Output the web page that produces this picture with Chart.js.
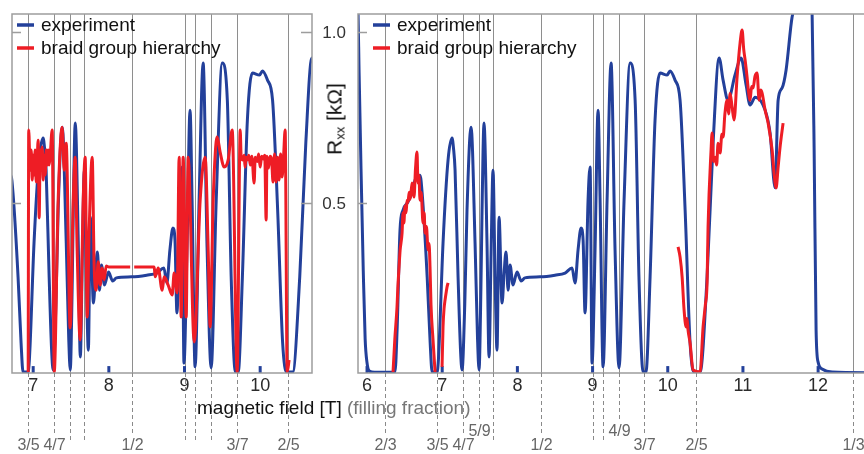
<!DOCTYPE html>
<html>
<head>
<meta charset="utf-8">
<script src="https://cdn.jsdelivr.net/npm/chart.js@4.4.1/dist/chart.umd.min.js"></script>
<style>
html, body { margin: 0; padding: 0; background: #fff; overflow: hidden; }
#wrap { position: relative; width: 864px; height: 454px; overflow: hidden; }
canvas { position: absolute; top: 0; }
#leftPanel { left: 0; }
#rightPanel { left: 300px; }
.txt { position: absolute; font-family: "Liberation Sans", Arial, sans-serif; white-space: nowrap; color: #111; }
#xTitle { left: 197px; top: 397px; font-size: 19px; line-height: 22px; }
#xTitle span { color: #777; }
#yTitle { left: 335px; top: 119px; font-size: 21px; transform: translate(-50%, -50%) rotate(-90deg); }
#yTitle sub { font-size: 13px; vertical-align: -3px; }
</style>
</head>
<body>
<div id="wrap">
  <canvas id="leftPanel" width="330" height="454" style="width:330px;height:454px"></canvas>
  <canvas id="rightPanel" width="580" height="454" style="width:580px;height:454px"></canvas>
  <div class="txt" id="xTitle">magnetic field [T] <span>(filling fraction)</span></div>
  <div class="txt" id="yTitle">R<sub>xx</sub> [kΩ]</div>
</div>
<script>
// filling fractions and where they sit on the field axis (T)
const fractionB = [6.24, 6.93, 7.27, 7.49, 7.67, 8.31, 9.01, 9.14, 9.35, 9.69, 10.37, 12.47];
const fractionLabels = ['2/3', '3/5', '4/7', '5/9', '6/11', '1/2', '6/13', '5/11', '4/9', '3/7', '2/5', '1/3'];
const raisedLabels = ['5/9', '4/9'];
const leftShown = ['3/5', '4/7', '1/2', '3/7', '2/5'];
const rightShown = ['2/3', '3/5', '4/7', '5/9', '1/2', '4/9', '3/7', '2/5', '1/3'];

const fieldTicks = [6, 7, 8, 9, 10, 11, 12];
const rxxTicks = [0.5, 1.0];
const fieldMarks = [6, 7, 8, 9, 10, 11, 12];

// measured Rxx (kOhm) against B (T)
const experiment = [
  [5.86, 1.12], [5.88, 1.06], [5.894, 0.889], [5.92, 0.6], [5.95, 0.3], [5.975, 0.1], [6.0, 0.03], [6.03, 0.006],
  [6.1, 0.002], [6.372, 0.003], [6.40, 0.126], [6.439, 0.42], [6.479, 0.478], [6.54, 0.50], [6.60, 0.53],
  [6.639, 0.566], [6.705, 0.58], [6.733, 0.528], [6.80, 0.282], [6.84, 0.088], [6.866, 0.003], [6.931, 0.003],
  [6.95, 0.04], [7.011, 0.381], [7.078, 0.625], [7.131, 0.689], [7.15, 0.66], [7.171, 0.595], [7.211, 0.282],
  [7.245, 0.06], [7.264, 0.009], [7.30, 0.2], [7.33, 0.478], [7.384, 0.721], [7.437, 0.381], [7.47, 0.1],
  [7.49, 0.009], [7.515, 0.25], [7.53, 0.478], [7.556, 0.733], [7.596, 0.381], [7.623, 0.047], [7.65, 0.35],
  [7.676, 0.595], [7.703, 0.282], [7.729, 0.067], [7.756, 0.457], [7.796, 0.205], [7.825, 0.30], [7.849, 0.355],
  [7.876, 0.243], [7.902, 0.317], [7.942, 0.258], [7.995, 0.296], [8.05, 0.27], [8.10, 0.279], [8.301, 0.282],
  [8.50, 0.287], [8.634, 0.293], [8.727, 0.308], [8.767, 0.264], [8.807, 0.361], [8.847, 0.425], [8.874, 0.39],
  [8.90, 0.176], [8.94, 0.507], [8.967, 0.604], [8.993, 0.029], [9.033, 0.361], [9.073, 0.771], [9.10, 0.507],
  [9.14, 0.018], [9.193, 0.507], [9.246, 0.909], [9.299, 0.361], [9.352, 0.015], [9.419, 0.507], [9.499, 0.909],
  [9.566, 0.80], [9.618, 0.273], [9.672, 0.003], [9.71, 0.003], [9.765, 0.282], [9.831, 0.742], [9.898, 0.88],
  [9.991, 0.874], [10.031, 0.886], [10.097, 0.859], [10.164, 0.80], [10.231, 0.478], [10.297, 0.088], [10.35, 0.003],
  [10.43, 0.003], [10.523, 0.282], [10.603, 0.674], [10.683, 0.924], [10.736, 0.859], [10.802, 0.80], [10.895, 0.874],
  [10.975, 0.924], [11.042, 0.845], [11.095, 0.786], [11.162, 0.809], [11.295, 0.771], [11.361, 0.704], [11.428, 0.543],
  [11.468, 0.80], [11.521, 0.836], [11.574, 0.889], [11.654, 1.044], [11.707, 1.079], [11.80, 1.12], [11.90, 1.1],
  [11.92, 1.053], [11.947, 0.654], [11.973, 0.126], [12.0, 0.032], [12.053, 0.012], [12.186, 0.003], [12.7, 0.001]
];

// braid group hierarchy, left panel
const hierarchyLeft = [
  [6.934, 0.003], [6.941, 0.713], [6.96, 0.595], [6.974, 0.654], [6.987, 0.566], [7.0, 0.639], [7.013, 0.581],
  [7.026, 0.654], [7.04, 0.56], [7.053, 0.625], [7.066, 0.683], [7.079, 0.455], [7.093, 0.654], [7.106, 0.595],
  [7.119, 0.663], [7.132, 0.566], [7.145, 0.639], [7.159, 0.581], [7.172, 0.654], [7.185, 0.61], [7.198, 0.654],
  [7.211, 0.61], [7.225, 0.639], [7.251, 0.713], [7.278, 0.003], [7.33, 0.507], [7.383, 0.721], [7.41, 0.595],
  [7.436, 0.674], [7.489, 0.132], [7.529, 0.507], [7.555, 0.633], [7.581, 0.361], [7.621, 0.097], [7.661, 0.507],
  [7.687, 0.633], [7.714, 0.164], [7.74, 0.419], [7.78, 0.633], [7.806, 0.311], [7.833, 0.243], [7.859, 0.326],
  [7.885, 0.258], [7.912, 0.308], [7.938, 0.273], [7.965, 0.314], [8.0, 0.311], [8.282, 0.311], [8.30, null],
  [8.335, 0.311], [8.60, 0.311], [8.612, 0.282], [8.652, 0.308], [8.705, 0.243], [8.731, 0.282], [8.784, 0.258],
  [8.837, 0.229], [8.863, 0.293], [8.903, 0.235], [8.929, 0.633], [8.956, 0.164], [8.982, 0.633], [9.022, 0.164],
  [9.048, 0.633], [9.128, 0.091], [9.207, 0.507], [9.273, 0.633], [9.313, 0.361], [9.339, 0.135], [9.379, 0.507],
  [9.432, 0.692], [9.471, 0.648], [9.524, 0.604], [9.577, 0.625], [9.63, 0.713], [9.696, 0.003], [9.736, 0.713],
  [9.749, 0.633], [9.77, 0.625], [9.789, 0.639], [9.80, 0.604], [9.815, 0.633], [9.83, 0.625], [9.85, 0.639],
  [9.87, 0.61], [9.89, 0.636], [9.92, 0.557], [9.935, 0.633], [9.96, 0.62], [9.98, 0.642], [10.0, 0.604],
  [10.02, 0.636], [10.04, 0.628], [10.06, 0.639], [10.079, 0.449], [10.09, 0.636], [10.11, 0.601], [10.13, 0.636],
  [10.15, 0.628], [10.17, 0.56], [10.19, 0.642], [10.21, 0.56], [10.23, 0.633], [10.25, 0.566], [10.27, 0.642],
  [10.29, 0.575], [10.31, 0.639], [10.33, 0.713], [10.357, 0.003], [10.383, 0.038]
];

// braid group hierarchy, right panel (two fitted stretches)
const hierarchyRight = [
  [6.346, 0.003], [6.37, 0.10], [6.399, 0.194], [6.41, 0.25], [6.426, 0.311], [6.44, 0.36], [6.466, 0.41],
  [6.479, 0.47], [6.49, 0.44], [6.505, 0.49], [6.52, 0.47], [6.532, 0.507], [6.545, 0.50], [6.56, 0.53],
  [6.575, 0.51], [6.599, 0.557], [6.612, 0.53], [6.625, 0.516], [6.645, 0.60], [6.665, 0.648], [6.678, 0.557],
  [6.69, 0.58], [6.705, 0.507], [6.72, 0.53], [6.745, 0.44], [6.76, 0.47], [6.772, 0.41], [6.79, 0.43],
  [6.812, 0.361], [6.825, 0.38], [6.838, 0.311], [6.851, 0.2], [6.878, 0.097], [6.905, 0.003], [6.95, null],
  [6.998, 0.018], [7.011, 0.135], [7.025, 0.19], [7.038, 0.214], [7.055, 0.24], [7.064, 0.252], [7.078, 0.264],
  [9.0, null],
  [10.137, 0.37], [10.164, 0.34], [10.191, 0.282], [10.217, 0.185], [10.244, 0.135], [10.257, 0.16], [10.27, 0.126],
  [10.297, 0.088], [10.337, 0.009], [10.43, 0.003], [10.47, 0.135], [10.50, 0.20], [10.523, 0.264], [10.536, 0.428],
  [10.576, 0.654], [10.59, 0.704], [10.61, 0.62], [10.63, 0.633], [10.65, 0.61], [10.669, 0.674], [10.696, 0.645],
  [10.72, 0.70], [10.736, 0.692], [10.76, 0.76], [10.789, 0.80], [10.81, 0.76], [10.829, 0.82], [10.856, 0.78],
  [10.882, 0.742], [10.922, 0.868], [10.962, 0.968], [10.989, 1.006], [11.01, 0.95], [11.029, 0.918], [11.055, 0.868],
  [11.069, 0.836], [11.095, 0.80], [11.115, 0.84], [11.135, 0.836], [11.16, 0.87], [11.188, 0.88], [11.215, 0.80],
  [11.235, 0.83], [11.255, 0.821], [11.295, 0.771], [11.335, 0.733], [11.388, 0.654], [11.414, 0.587], [11.441, 0.543],
  [11.468, 0.604], [11.494, 0.663], [11.534, 0.733]
];

const BLUE = '#23409a';
const RED = '#ee1d25';
const FONT = '"Liberation Sans", Arial, sans-serif';

const panelDecor = {
  id: 'panelDecor',
  beforeDatasetsDraw(chart, args, opts) {
    const { ctx, chartArea: area, scales: { x } } = chart;
    ctx.save();
    ctx.strokeStyle = '#8e8e8e';
    ctx.lineWidth = 1;
    fractionB.forEach(b => {
      if (b <= x.min || b >= x.max) return;
      const px = Math.round(x.getPixelForValue(b)) + 0.5;
      ctx.beginPath();
      ctx.moveTo(px, area.top);
      ctx.lineTo(px, area.bottom);
      ctx.stroke();
    });
    ctx.restore();
  },
  afterDatasetsDraw(chart, args, opts) {
    const { ctx, chartArea: area, scales: { x, y } } = chart;
    ctx.save();

    // frame and Rxx ticks
    ctx.strokeStyle = '#9d9d9d';
    ctx.lineWidth = 1.5;
    ctx.strokeRect(area.left, area.top, area.right - area.left, area.bottom - area.top);
    ctx.font = '17px ' + FONT;
    ctx.fillStyle = '#333';
    ctx.textAlign = 'right';
    ctx.textBaseline = 'middle';
    rxxTicks.forEach(v => {
      const py = Math.round(y.getPixelForValue(v)) + 0.5;
      ctx.beginPath();
      ctx.moveTo(area.left, py);
      ctx.lineTo(area.left + 9, py);
      if (opts.rightTicks) {
        ctx.moveTo(area.right - 11, py);
        ctx.lineTo(area.right, py);
      }
      ctx.stroke();
      if (opts.yLabels) ctx.fillText(v.toFixed(1), area.left - 12, py + 1);
    });

    // field tick labels
    ctx.font = '18px ' + FONT;
    ctx.fillStyle = '#2b2b2b';
    ctx.textAlign = 'center';
    fieldTicks.forEach(t => {
      if (t < x.min || t > x.max) return;
      ctx.fillText(String(t), x.getPixelForValue(t), area.bottom + 13);
    });

    // filling fraction guides below the axis
    ctx.strokeStyle = '#8a8a8a';
    ctx.lineWidth = 1;
    ctx.setLineDash([4, 3]);
    ctx.font = '16px ' + FONT;
    ctx.fillStyle = '#666';
    fractionB.forEach((b, i) => {
      if (b <= x.min || b >= x.max) return;
      const lab = fractionLabels[i];
      const shown = opts.shown.includes(lab);
      const raised = raisedLabels.includes(lab);
      const px = Math.round(x.getPixelForValue(b)) + 0.5;
      const end = shown ? (raised ? 422 : 435) : 443;
      ctx.beginPath();
      ctx.moveTo(px, area.bottom);
      ctx.lineTo(px, end);
      ctx.stroke();
      if (shown) ctx.fillText(lab, px, raised ? 432 : 446);
    });
    ctx.setLineDash([]);

    // legend
    ctx.font = '19px ' + FONT;
    ctx.fillStyle = '#111';
    ctx.textAlign = 'left';
    chart.data.datasets.filter(d => d.label).sort((a, b) => b.order - a.order).forEach((d, i) => {
      const py = area.top + 11 + i * 23;
      ctx.strokeStyle = d.borderColor;
      ctx.lineWidth = 3.5;
      ctx.beginPath();
      ctx.moveTo(area.left + opts.legendX, py);
      ctx.lineTo(area.left + opts.legendX + 17, py);
      ctx.stroke();
      ctx.fillText(d.label, area.left + opts.legendX + 24, py + 1);
    });
    ctx.restore();
  }
};

function asPoints(rows) {
  return rows.map(([b, r]) => ({ x: b, y: r }));
}

function makePanel(id, xMin, xMax, padding, hierarchy, decor) {
  return new Chart(document.getElementById(id), {
    type: 'line',
    data: {
      datasets: [
        {
          label: 'braid group hierarchy',
          data: asPoints(hierarchy),
          borderColor: RED,
          borderWidth: 3,
          order: 0
        },
        {
          label: 'experiment',
          data: asPoints(experiment),
          borderColor: BLUE,
          borderWidth: 3,
          order: 1
        },
        {
          data: fieldMarks.map(b => ({ x: b, y: 0.01 })),
          borderColor: BLUE,
          backgroundColor: BLUE,
          showLine: false,
          pointStyle: 'line',
          rotation: 90,
          pointRadius: 3.5,
          pointBorderWidth: 3,
          order: 2
        }
      ]
    },
    options: {
      responsive: false,
      animation: false,
      devicePixelRatio: 1,
      layout: { padding: padding },
      elements: {
        point: { radius: 0 },
        line: { cubicInterpolationMode: 'monotone', fill: false }
      },
      datasets: { line: { clip: 0, spanGaps: false } },
      scales: {
        x: { type: 'linear', min: xMin, max: xMax, display: false },
        y: { type: 'linear', min: 0, max: 1.053, display: false }
      },
      plugins: {
        legend: { display: false },
        tooltip: { enabled: false },
        panelDecor: decor
      }
    },
    plugins: [panelDecor]
  });
}

makePanel('leftPanel', 6.72, 10.685, { left: 12, right: 18, top: 14, bottom: 81 }, hierarchyLeft,
  { rightTicks: true, yLabels: false, shown: leftShown, legendX: 5 });
makePanel('rightPanel', 5.88, 12.69, { left: 58, right: 10, top: 14, bottom: 81 }, hierarchyRight,
  { rightTicks: false, yLabels: true, shown: rightShown, legendX: 15 });
</script>
</body>
</html>
